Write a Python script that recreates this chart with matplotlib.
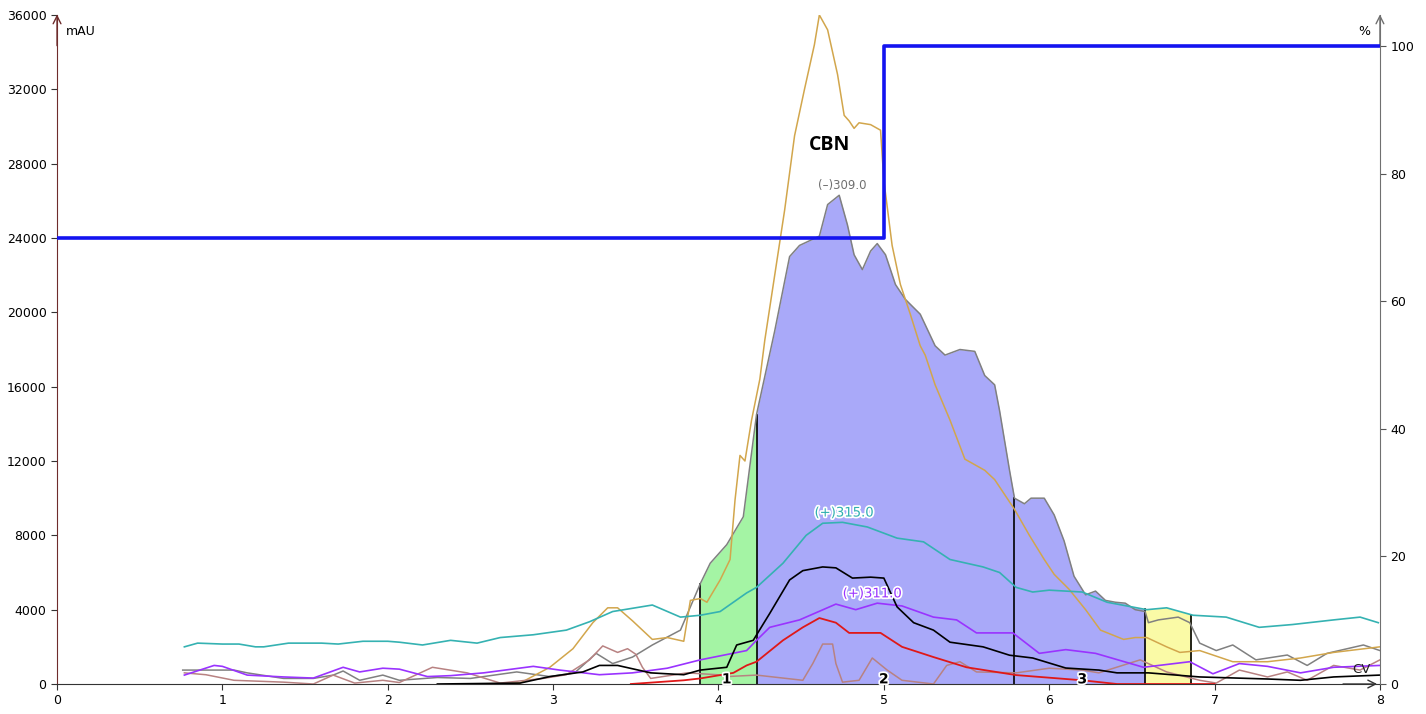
import matplotlib
matplotlib.use("Agg")
import matplotlib.pyplot as plt
import matplotlib.patheffects as pe
import numpy as np

# ---------------------------------------------------
# DATA (time in min, absorbance in mAU)
# ---------------------------------------------------
gray_x = [0.76, 0.86, 1.07, 1.15, 1.37, 1.55, 1.67, 1.73, 1.83, 1.97, 2.07, 2.3, 2.5, 2.78, 2.98,
          3.13, 3.26, 3.36, 3.48, 3.6, 3.77, 3.89, 3.95, 4.05, 4.15, 4.23, 4.34, 4.43, 4.49, 4.61,
          4.66, 4.73, 4.78, 4.82, 4.87, 4.92, 4.96, 5.01, 5.07, 5.13, 5.22, 5.31, 5.37, 5.46, 5.55,
          5.61, 5.67, 5.70, 5.76, 5.79, 5.85, 5.89, 5.97, 6.03, 6.09, 6.15, 6.22, 6.28, 6.34, 6.40,
          6.46, 6.52, 6.58, 6.60, 6.66, 6.78, 6.85, 6.91, 7.01, 7.11, 7.25, 7.44, 7.56, 7.68, 7.9, 8.0]
gray_y = [750, 750, 750, 600, 300, 300, 480, 700, 200, 480, 200, 350, 300, 650, 400,
          600, 1650, 1100, 1450, 2100, 2900, 5400, 6500, 7500, 9000, 14500, 19000, 23000, 23600, 24100,
          25800, 26300, 24700, 23100, 22300, 23300, 23700, 23100, 21500, 20700, 19900, 18200, 17700, 18000, 17900,
          16600, 16100, 14700, 11500, 10000, 9700, 10000, 10000, 9100, 7700, 5800, 4800, 5000, 4500, 4400,
          4350, 4000, 3900, 3300, 3450, 3600, 3300, 2200, 1800, 2100, 1300, 1560, 1000, 1650, 2100, 1800]

gold_x = [2.52, 2.8, 2.98, 3.12, 3.24, 3.33, 3.39, 3.48, 3.6, 3.69, 3.79, 3.83, 3.89, 3.93, 4.01,
          4.07, 4.1, 4.13, 4.16, 4.2, 4.25, 4.28, 4.34, 4.4, 4.46, 4.52, 4.58, 4.61, 4.66, 4.72,
          4.76, 4.79, 4.82, 4.85, 4.92, 4.98, 5.0, 5.05, 5.1, 5.16, 5.22, 5.25, 5.31, 5.4, 5.49,
          5.61, 5.67, 5.79, 5.88, 5.97, 6.03, 6.12, 6.22, 6.31, 6.45, 6.52, 6.59, 6.71, 6.79, 6.91,
          7.11, 7.32, 7.52, 7.72, 8.0]
gold_y = [0, 50, 900, 1900, 3300, 4100, 4100, 3400, 2400, 2500, 2300, 4500, 4600, 4400, 5600,
          6700, 9900, 12300, 12000, 14200, 16400, 18500, 22000, 25500, 29500, 32000, 34400, 36000, 35200, 32800,
          30600, 30300, 29900, 30200, 30100, 29800, 27100, 23600, 21500, 19900, 18200, 17700, 16100, 14200, 12100,
          11500, 11000, 9400, 8000, 6700, 5900, 5100, 4000, 2900, 2400, 2500, 2500, 2000, 1700, 1800,
          1200, 1200, 1400, 1700, 2000]

teal_x = [0.77, 0.85, 1.0, 1.1, 1.2, 1.25, 1.4, 1.6, 1.7, 1.85, 2.0, 2.07, 2.21, 2.38, 2.54,
          2.68, 2.88, 3.08, 3.22, 3.36, 3.6, 3.77, 3.89, 4.01, 4.17, 4.23, 4.39, 4.53, 4.63, 4.75,
          4.9, 5.08, 5.24, 5.4, 5.6, 5.7, 5.8, 5.9, 6.0, 6.2, 6.35, 6.59, 6.71, 6.87, 7.07,
          7.27, 7.47, 7.72, 7.88, 7.99]
teal_y = [2000, 2200, 2150, 2150, 2000, 2000, 2200, 2200, 2150, 2300, 2300, 2250, 2100, 2350, 2200,
          2500, 2650, 2900, 3350, 3900, 4250, 3600, 3700, 3900, 4900, 5200, 6500, 8000, 8650, 8700,
          8450, 7850, 7650, 6700, 6300, 6000, 5200, 4950, 5050, 4950, 4400, 4000, 4100, 3700, 3600,
          3050, 3200, 3450, 3600, 3300]

black_x = [2.3, 2.8, 2.98, 3.18, 3.28, 3.39, 3.59, 3.79, 3.89, 4.05, 4.11, 4.21, 4.31, 4.43, 4.51,
           4.63, 4.71, 4.81, 4.92, 5.0, 5.08, 5.18, 5.3, 5.4, 5.6, 5.76, 5.9, 6.1, 6.3, 6.41,
           6.6, 6.91, 7.32, 7.52, 7.72, 8.0]
black_y = [0, 50, 400, 650, 1000, 1000, 600, 500, 750, 900, 2100, 2350, 3800, 5600, 6100,
           6300, 6250, 5700, 5750, 5700, 4150, 3300, 2900, 2250, 2000, 1550, 1400, 860, 750, 600,
           600, 380, 270, 200, 380, 480]

purple_x = [0.77, 0.95, 1.0, 1.15, 1.37, 1.55, 1.73, 1.83, 1.97, 2.07, 2.24, 2.38, 2.58, 2.88, 3.04,
            3.28, 3.48, 3.69, 3.89, 4.17, 4.23, 4.31, 4.49, 4.71, 4.83, 4.96, 5.11, 5.3, 5.44, 5.56,
            5.78, 5.94, 6.1, 6.28, 6.57, 6.85, 6.99, 7.15, 7.32, 7.52, 7.72, 8.0]
purple_y = [480, 1000, 950, 480, 380, 320, 900, 650, 850, 800, 400, 450, 600, 950, 750,
            500, 600, 850, 1300, 1800, 2350, 3050, 3450, 4300, 4000, 4350, 4200, 3600, 3450, 2750,
            2750, 1650, 1850, 1650, 900, 1200, 550, 1100, 950, 600, 900, 1000]

red_x = [3.47, 3.79, 3.89, 4.09, 4.17, 4.23, 4.39, 4.51, 4.61, 4.71, 4.79, 4.98, 5.11, 5.3, 5.5,
         5.8, 6.2, 6.41, 7.0]
red_y = [0, 200, 300, 600, 1000, 1200, 2350, 3050, 3550, 3300, 2750, 2750, 2000, 1450, 900,
         480, 200, 0, 0]

pink_x = [0.77, 0.9, 1.07, 1.37, 1.55, 1.67, 1.8, 1.97, 2.07, 2.27, 2.48, 2.68, 2.94, 3.08, 3.22,
          3.30, 3.39, 3.45, 3.50, 3.54, 3.59, 3.81, 3.99, 4.05, 4.23, 4.51, 4.57, 4.63, 4.69, 4.71,
          4.75, 4.85, 4.93, 5.02, 5.11, 5.3, 5.38, 5.46, 5.56, 5.8, 6.0, 6.2, 6.3, 6.55, 6.71,
          6.91, 7.01, 7.15, 7.32, 7.44, 7.56, 7.72, 7.88, 8.0]
pink_y = [600, 500, 200, 100, 0, 480, 50, 200, 80, 900, 600, 50, 300, 500, 1300,
          2050, 1700, 1900, 1600, 900, 300, 600, 500, 400, 480, 200, 1100, 2150, 2150, 1100,
          100, 200, 1400, 750, 200, 0, 1000, 1200, 650, 600, 850, 750, 600, 1300, 650,
          200, 50, 750, 380, 650, 200, 1000, 750, 1300]

# gradient (% B)
grad_x = [0, 5.0, 5.0, 8.0]
grad_y = [70, 70, 100, 100]

# fractions: (start, end, label, colour)
frac_start = [3.89, 4.23, 5.79, 6.58]
frac_end = [4.23, 5.79, 6.58, 6.86]
frac_label = ["1", "2", "3", ""]
frac_color = ["#a4f4a4", "#a9a9f9", "#a9a9f9", "#fafaa6"]
frac_label_x = [4.05, 5.0, 6.2]

# ---------------------------------------------------
# PLOT
# ---------------------------------------------------
fig = plt.figure(figsize=(14.26, 7.14), dpi=100)
ax = fig.add_axes([0.04, 0.042, 0.9277, 0.937])
ax2 = ax.twinx()

# fraction fills under the trace envelope
grid = np.linspace(0.76, 8.0, 3000)
env = np.maximum(np.interp(grid, gray_x, gray_y), np.interp(grid, teal_x, teal_y))
for s, e, c in zip(frac_start, frac_end, frac_color):
    m = (grid >= s) & (grid <= e)
    xs = np.concatenate([[s], grid[m], [e]])
    ys = np.concatenate([[np.interp(s, grid, env)], env[m], [np.interp(e, grid, env)]])
    ax.fill_between(xs, 0, ys, color=c, lw=0, zorder=1)
for b in sorted(set(frac_start + frac_end)):
    ax.plot([b, b], [0, np.interp(b, grid, env)], color="black", lw=1.2, zorder=2)

ax.plot(gray_x, gray_y, color="#808080", lw=1.1, zorder=3)
ax.plot(gold_x, gold_y, color="#d2a64c", lw=1.1, zorder=3)
ax.plot(teal_x, teal_y, color="#35b2b2", lw=1.2, zorder=3)
ax.plot(pink_x, pink_y, color="#b88282", lw=1.1, zorder=3)
ax.plot(purple_x, purple_y, color="#9a33ff", lw=1.2, zorder=4)
ax.plot(black_x, black_y, color="black", lw=1.2, zorder=4)
ax.plot(red_x, red_y, color="#e01818", lw=1.3, zorder=4)

ax2.plot(grad_x, grad_y, color="#1414f0", lw=2.6, zorder=5)

# texts
outline = [pe.withStroke(linewidth=2.5, foreground="white")]
for lx, lab in zip(frac_label_x, frac_label):
    ax.text(lx, 250, lab, ha="center", va="center", fontsize=10, fontweight="bold",
            color="black", path_effects=outline, zorder=6)
ax.text(4.75, 26800, "(\u2013)309.0", ha="center", va="center", fontsize=8.5, color="#707070", zorder=6)
ax.text(4.76, 9200, "(+)315.0", ha="center", va="center", fontsize=9.5, color="#30b0b0",
        path_effects=outline, zorder=6)
ax.text(4.93, 4850, "(+)311.0", ha="center", va="center", fontsize=9.5, color="#9a33ff",
        path_effects=outline, zorder=6)
ax.text(4.67, 29000, "CBN", ha="center", va="center", fontsize=14, fontweight="bold",
        family="Open Sans", color="black", zorder=6)
ax.text(7.89, 800, "CV", ha="center", va="center", fontsize=9.5, color="#202020", zorder=6)

ax.text(0.007, 0.975, "mAU", transform=ax.transAxes, ha="left", va="center", fontsize=9)
ax2.text(0.993, 0.975, "%", transform=ax2.transAxes, ha="right", va="center", fontsize=9)

# axes
ax.set_xlim(0, 8)
ax.set_ylim(0, 36000)
ax2.set_ylim(0, 104.9)
ax.set_xticks(range(0, 9))
ax.set_yticks(range(0, 36001, 4000))
ax2.set_yticks(range(0, 101, 20))
ax.tick_params(axis="both", labelsize=9, length=4, color="#333333")
ax2.tick_params(axis="y", labelsize=9, length=4, color="#555555")

for a in (ax, ax2):
    a.spines["top"].set_visible(False)
ax.spines["right"].set_visible(False)
ax2.spines["left"].set_visible(False)
ax2.spines["bottom"].set_visible(False)
ax.spines["left"].set_color("#6e2c2c")
ax2.spines["right"].set_color("#707070")
ax.spines["bottom"].set_color("#333333")

arrow = dict(arrowstyle="->", lw=1.0, mutation_scale=14)
ax.annotate("", xy=(0, 1.005), xytext=(0, 0.95), xycoords="axes fraction",
            arrowprops=dict(arrow, color="#6e2c2c"), annotation_clip=False)
ax.annotate("", xy=(1.0, 1.005), xytext=(1.0, 0.95), xycoords="axes fraction",
            arrowprops=dict(arrow, color="#707070"), annotation_clip=False)
ax.annotate("", xy=(1.0, 0), xytext=(0.97, 0), xycoords="axes fraction",
            arrowprops=dict(arrow, color="#333333"), annotation_clip=False)

fig.savefig("out.png", dpi=100)
